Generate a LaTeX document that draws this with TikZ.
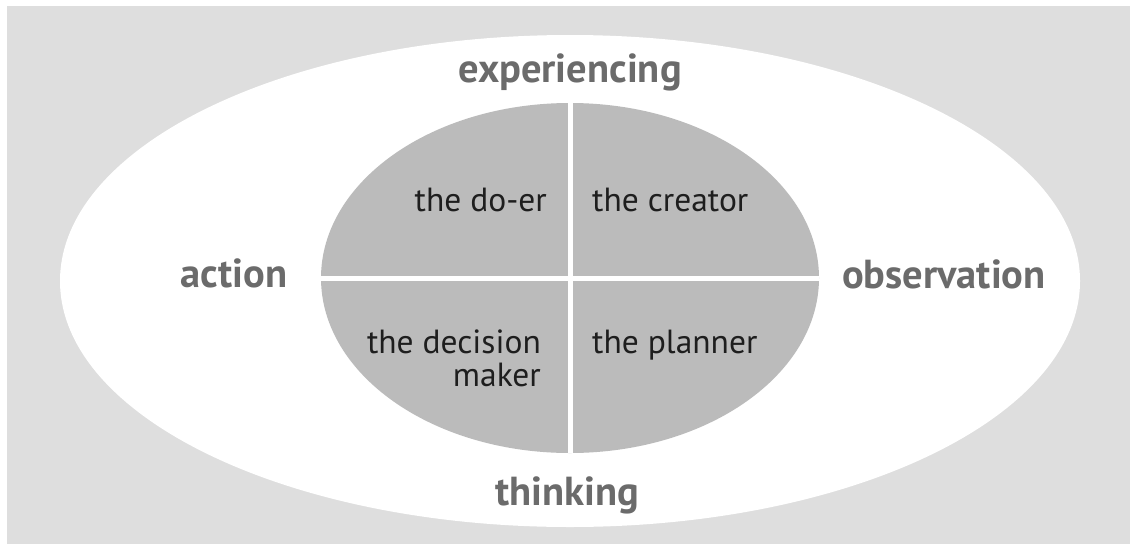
\documentclass[tikz,border=0pt]{standalone}
\usepackage{fontspec}
\setmainfont{PT Sans}
\usetikzlibrary{shapes.geometric}
\definecolor{bggray}{HTML}{DEDEDE}
\definecolor{cellgray}{HTML}{BBBBBB}
\definecolor{labelgray}{HTML}{6B6B6B}
\definecolor{textdark}{HTML}{1E1E1E}

\begin{document}
\begin{tikzpicture}[x=1pt, y=-1pt,
    outer label/.style={anchor=base, inner sep=0pt, text=labelgray,
      font=\fontsize{40.5}{42}\selectfont\bfseries},
    inner label/.style={inner sep=0pt, text=textdark,
      font=\fontsize{33.5}{33}\selectfont},
    divider/.style={draw=white, line width=5pt}]
        \useasboundingbox[fill=white] (0, 0) rectangle (1130, 544);
        \fill[bggray] (7, 6) rectangle (1130, 544);
        \node[ellipse, fill=white, inner sep=0pt, minimum width=1020, minimum height=492] (outer) at (570, 281) {};
        \node[ellipse, fill=cellgray, inner sep=0pt, minimum width=498, minimum height=350] (inner) at (570, 278) {};
        \draw[divider] (inner.north) -- (inner.south);
        \draw[divider] (inner.west) -- (inner.east);
        \foreach \n/\x/\y/\t in {exp/570/82/experiencing, act/234/287/action, obs/944/288/observation, thi/567/505/thinking}{
          \node[outer label] (\n) at (\x, \y) {\t};
        }
        \node[inner label, anchor=base east] (doer) at (547, 211) {the do-er};
        \node[inner label, anchor=base west] (creator) at (592, 211) {the creator};
        % base of a two-line node is its last line
        \node[inner label, anchor=base east, align=right] (decider) at (541, 386) {the decision\\maker};
        \node[inner label, anchor=base west] (planner) at (592, 353) {the planner};
\end{tikzpicture}
\end{document}
